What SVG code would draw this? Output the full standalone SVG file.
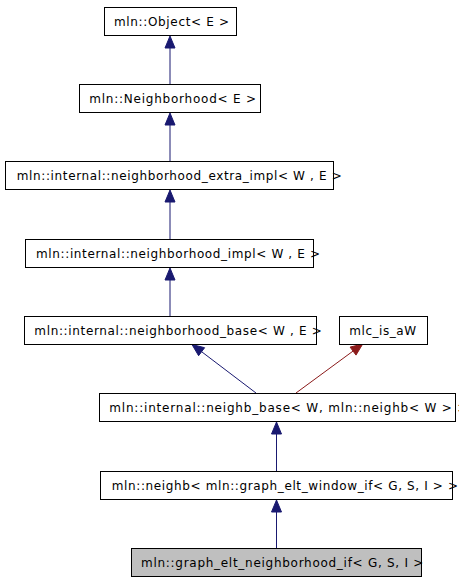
<svg xmlns="http://www.w3.org/2000/svg" width="459" height="581" viewBox="0 0 459 581">
<style>
.box{fill:#ffffff;stroke:#000000;stroke-width:1}
.cur{fill:#bfbfbf;stroke:#000000;stroke-width:1}
.lbl{font-family:"DejaVu Sans",sans-serif;font-size:12px;fill:#000000}
.eb{stroke:#191970;stroke-width:1;fill:none}
.er{stroke:#8b1a1a;stroke-width:1;fill:none}
.hb{fill:#191970;stroke:#191970;stroke-width:1}
.hr{fill:#8b1a1a;stroke:#8b1a1a;stroke-width:1}
</style>
<rect width="459" height="581" fill="#ffffff"/>
<g id="connectors">
<line class="eb" x1="170" y1="84" x2="170" y2="47"/>
<polygon class="hb" points="170,36 165,48 175,48"/>
<line class="eb" x1="170" y1="161" x2="170" y2="124"/>
<polygon class="hb" points="170,113 165,125 175,125"/>
<line class="eb" x1="170" y1="239" x2="170" y2="202"/>
<polygon class="hb" points="170,190 165,202 175,202"/>
<line class="eb" x1="170" y1="316" x2="170" y2="279"/>
<polygon class="hb" points="170,268 165,280 175,280"/>
<line class="eb" x1="256" y1="393" x2="201.6" y2="351.7"/>
<polygon class="hb" points="192,344.5 204.6,347.7 198.6,355.7"/>
<line class="er" x1="296" y1="393" x2="353" y2="351.1"/>
<polygon class="hr" points="362.7,344 356,355.1 350.1,347.1"/>
<line class="eb" x1="276.5" y1="471" x2="276.5" y2="433"/>
<polygon class="hb" points="276.5,422 271.5,434 281.5,434"/>
<line class="eb" x1="276.5" y1="548" x2="276.5" y2="511"/>
<polygon class="hb" points="276.5,500 271.5,512 281.5,512"/>
</g>
<g id="node-object">
<rect class="box" x="104.5" y="7.5" width="132" height="28"/>
<text class="lbl" x="114" y="26" textLength="115" lengthAdjust="spacing">mln::Object&lt; E &gt;</text>
</g>
<g id="node-neighborhood">
<rect class="box" x="79.5" y="84.5" width="181" height="28"/>
<text class="lbl" x="89.3" y="103" textLength="166.7" lengthAdjust="spacing">mln::Neighborhood&lt; E &gt;</text>
</g>
<g id="node-extra-impl">
<rect class="box" x="5.5" y="161.5" width="328" height="28"/>
<text class="lbl" x="16.7" y="180" textLength="325" lengthAdjust="spacing">mln::internal::neighborhood_extra_impl&lt; W , E &gt;</text>
</g>
<g id="node-impl">
<rect class="box" x="25.5" y="239.5" width="288" height="28"/>
<text class="lbl" x="36" y="258" textLength="284" lengthAdjust="spacing">mln::internal::neighborhood_impl&lt; W , E &gt;</text>
</g>
<g id="node-base">
<rect class="box" x="24.5" y="316.5" width="292" height="28"/>
<text class="lbl" x="34.3" y="335" textLength="287.4" lengthAdjust="spacing">mln::internal::neighborhood_base&lt; W , E &gt;</text>
</g>
<g id="node-mlc">
<rect class="box" x="339.5" y="316.5" width="88" height="28"/>
<text class="lbl" x="349.3" y="335" textLength="66.7" lengthAdjust="spacing">mlc_is_aW</text>
</g>
<g id="node-neighb-base">
<rect class="box" x="99.5" y="393.5" width="356" height="28"/>
<text class="lbl" x="109.3" y="412" textLength="358" lengthAdjust="spacing">mln::internal::neighb_base&lt; W, mln::neighb&lt; W &gt; &gt;</text>
</g>
<g id="node-neighb">
<rect class="box" x="100.5" y="471.5" width="352" height="28"/>
<text class="lbl" x="111.7" y="490" textLength="346.3" lengthAdjust="spacing">mln::neighb&lt; mln::graph_elt_window_if&lt; G, S, I &gt; &gt;</text>
</g>
<g id="node-graph-elt-neighborhood-if">
<rect class="cur" x="131.5" y="548.5" width="290" height="28"/>
<text class="lbl" x="141" y="567" textLength="282.3" lengthAdjust="spacing">mln::graph_elt_neighborhood_if&lt; G, S, I &gt;</text>
</g>
</svg>
